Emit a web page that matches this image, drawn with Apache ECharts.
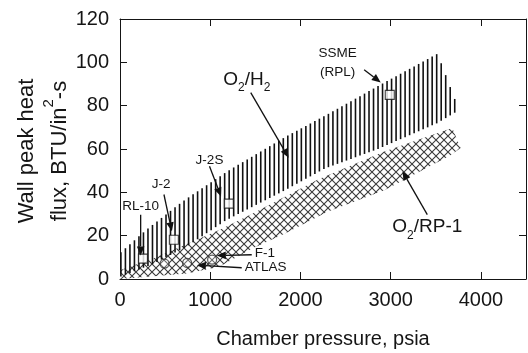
<!DOCTYPE html>
<html><head><meta charset="utf-8">
<script src="https://cdn.jsdelivr.net/npm/echarts@6/dist/echarts.min.js"></script>
<style>html,body{margin:0;padding:0;background:#fff}#c{width:528px;height:353px}</style>
</head><body><div id="c"></div>
<script>
// ---------------- data ----------------
const xTickLabels = ['0', '1000', '2000', '3000', '4000'];
const yTickLabels = ['0', '20', '40', '60', '80', '100', '120'];

// O2/H2 band (vertical hatching)
const h2UpperX = [0, 300, 700, 1200, 1850, 2300, 2900, 3520, 3720];
const h2UpperY = [12, 23, 36, 50, 66, 76, 90, 104, 82];
const h2LowerX = [0, 370, 740, 1170, 1830, 2270, 2860, 3520, 3720];
const h2LowerY = [1, 7, 15, 27, 41, 51, 60, 72, 77];

// O2/RP-1 band (cross hatching)
const rp1UpperX = [0, 370, 1100, 1460, 2200, 2930, 3683];
const rp1UpperY = [4, 9.5, 22.6, 30, 46, 58.8, 69.7];
const rp1LowerX = [0, 740, 1100, 1460, 1830, 2300, 2930, 3660, 3775];
const rp1LowerY = [0, 2.5, 5.7, 14, 21, 31, 41, 57, 60.5];

// engines (squares: O2/H2, circles: O2/RP-1)
const h2EngineNames = ['RL-10', 'J-2', 'J-2S', 'SSME'];
const h2EnginePressure = [254, 597, 1206, 2990];
const h2EngineFlux = [9.4, 18.1, 34.8, 85];
const rp1EnginePressure = [494, 744, 1021];
const rp1EngineFlux = [7.1, 7.4, 8.9];

// annotation texts
const labelTexts = ['{m|O}{s|2}{m|/H}{s|2}', '{m|O}{s|2}{m|/RP-1}', 'SSME', '(RPL)', 'RL-10', 'J-2', 'J-2S', 'F-1', 'ATLAS'];
const labelX = [1405, 3406, 2411, 2411, 229, 457, 992, 1493, 1383];
const labelY = [91, 22.8, 104.4, 95.2, 33.4, 43.5, 55, 11.7, 5.2];
const labelAlign = ['center', 'center', 'center', 'center', 'center', 'center', 'center', 'left', 'left'];
const labelBig = [true, true, false, false, false, false, false, false, false];

// arrows: start -> tip
const arrowFromX = [229, 487, 992, 1449, 2706, 3406, 1460, 1349];
const arrowFromY = [29.7, 39, 52, 86, 96.6, 29.7, 11.2, 5.2];
const arrowToX = [229, 575, 1120, 1869, 2890, 3130, 1073, 852];
const arrowToY = [10.8, 22, 38.1, 56, 90.7, 49.7, 10.8, 6.4];

// ---------------- helpers ----------------
function interp(xs, ys, x) {
  if (x <= xs[0]) return ys[0];
  for (let i = 1; i < xs.length; i++) {
    if (x <= xs[i]) {
      const t = (x - xs[i - 1]) / (xs[i] - xs[i - 1]);
      return ys[i - 1] + t * (ys[i] - ys[i - 1]);
    }
  }
  return ys[ys.length - 1];
}

function makeCrossPattern() {
  const c = document.createElement('canvas');
  c.width = 8; c.height = 8;
  const g = c.getContext('2d');
  g.fillStyle = '#fff';
  g.fillRect(0, 0, 8, 8);
  g.strokeStyle = '#3a3a3a';
  g.lineWidth = 1.1;
  g.beginPath();
  g.moveTo(-1, -1); g.lineTo(9, 9);
  g.moveTo(9, -1); g.lineTo(-1, 9);
  g.stroke();
  return c;
}
const crossPattern = makeCrossPattern();

const FONT = '"Liberation Sans", Arial, Helvetica, sans-serif';
const INK = '#151515';

const chart = echarts.init(document.getElementById('c'), null, { renderer: 'canvas' });

function axisCommon() {
  return {
    axisLine: { show: true, onZero: false, lineStyle: { color: INK, width: 1 } },
    axisTick: { show: true, inside: true, length: 7, lineStyle: { color: INK, width: 1 } },
    splitLine: { show: false }
  };
}

const option = {
  animation: false,
  backgroundColor: '#fff',
  grid: { left: 120, right: 2, top: 19, bottom: 74 },
  xAxis: [
    Object.assign({
      type: 'value', min: 0, max: 4500, interval: 1000, position: 'bottom',
      axisLabel: {
        show: true, margin: 11, color: INK, fontSize: 20, fontFamily: FONT, showMaxLabel: false,
        formatter: v => (xTickLabels.indexOf(String(v)) >= 0 ? String(v) : '')
      }
    }, axisCommon()),
    Object.assign({
      type: 'value', min: 0, max: 4500, interval: 1000, position: 'top',
      axisLabel: { show: false }
    }, axisCommon())
  ],
  yAxis: [
    Object.assign({
      type: 'value', min: 0, max: 120, interval: 20, position: 'left',
      axisLabel: {
        show: true, margin: 11, color: INK, fontSize: 20, fontFamily: FONT,
        formatter: v => (yTickLabels.indexOf(String(v)) >= 0 ? String(v) : '')
      }
    }, axisCommon()),
    Object.assign({
      type: 'value', min: 0, max: 120, interval: 20, position: 'right',
      axisLabel: { show: false }
    }, axisCommon())
  ],
  graphic: [
    {
      type: 'text', x: 27, y: 151, rotation: Math.PI / 2,
      style: {
        text: 'Wall peak heat', font: '22px ' + FONT, fill: INK,
        align: 'center', verticalAlign: 'middle', textAlign: 'center', textVerticalAlign: 'middle'
      }
    },
    {
      type: 'text', x: 56, y: 151, rotation: Math.PI / 2,
      style: {
        text: '{n|flux, BTU/in}{p|2}{n|-s}', fill: INK,
        align: 'center', verticalAlign: 'middle', textAlign: 'center', textVerticalAlign: 'middle',
        rich: {
          n: { fontSize: 22, fontFamily: FONT, color: INK, verticalAlign: 'bottom', lineHeight: 30 },
          p: { fontSize: 15, fontFamily: FONT, color: INK, verticalAlign: 'top', lineHeight: 30 }
        }
      }
    },
    {
      type: 'text', x: 323, y: 339,
      style: {
        text: 'Chamber pressure, psia', font: '20px ' + FONT, fill: INK,
        align: 'center', verticalAlign: 'middle', textAlign: 'center', textVerticalAlign: 'middle'
      }
    }
  ],
  series: [
    {
      // O2/RP-1 crosshatched band
      type: 'custom', coordinateSystem: 'cartesian2d', silent: true, clip: false,
      data: [[0, 0]],
      renderItem: function (params, api) {
        const pts = [];
        for (let i = 0; i < rp1UpperX.length; i++) pts.push(api.coord([rp1UpperX[i], rp1UpperY[i]]));
        for (let i = rp1LowerX.length - 1; i >= 0; i--) pts.push(api.coord([rp1LowerX[i], rp1LowerY[i]]));
        return {
          type: 'polygon', shape: { points: pts },
          style: { fill: { image: crossPattern, repeat: 'repeat' }, stroke: null }
        };
      }
    },
    {
      // O2/H2 vertically hatched band
      type: 'custom', coordinateSystem: 'cartesian2d', silent: true, clip: false,
      data: [[0, 0]],
      renderItem: function (params, api) {
        const children = [];
        const xEnd = Math.min(h2UpperX[h2UpperX.length - 1], h2LowerX[h2LowerX.length - 1]);
        for (let x = 10; x <= xEnd; x += 50) {
          const top = api.coord([x, interp(h2UpperX, h2UpperY, x)]);
          const bot = api.coord([x, interp(h2LowerX, h2LowerY, x)]);
          children.push({
            type: 'line',
            shape: { x1: top[0], y1: bot[1], x2: top[0], y2: top[1] },
            style: { stroke: '#111', lineWidth: 1.6 }
          });
        }
        return { type: 'group', children: children };
      }
    },
    {
      type: 'scatter', name: 'O2/H2 engines', symbol: 'rect', symbolSize: 9, silent: true,
      itemStyle: { color: '#fff', borderColor: '#111', borderWidth: 1.1 },
      data: h2EnginePressure.map((p, i) => [p, h2EngineFlux[i]]),
      z: 3
    },
    {
      type: 'scatter', name: 'O2/RP-1 engines', symbol: 'circle', symbolSize: 9, silent: true,
      itemStyle: { color: 'rgba(255,255,255,0.3)', borderColor: '#333', borderWidth: 1.3 },
      data: rp1EnginePressure.map((p, i) => [p, rp1EngineFlux[i]]),
      z: 3
    },
    {
      // arrows
      type: 'custom', coordinateSystem: 'cartesian2d', silent: true, clip: false, z: 4,
      data: arrowFromX.map((x, i) => [x, arrowFromY[i], arrowToX[i], arrowToY[i]]),
      encode: { x: [0, 2], y: [1, 3] },
      renderItem: function (params, api) {
        const p1 = api.coord([api.value(0), api.value(1)]);
        const p2 = api.coord([api.value(2), api.value(3)]);
        const dx = p2[0] - p1[0], dy = p2[1] - p1[1];
        const len = Math.sqrt(dx * dx + dy * dy) || 1;
        const ux = dx / len, uy = dy / len;
        const L = 9, W = 3.8;
        const bx = p2[0] - ux * L, by = p2[1] - uy * L;
        const nx = -uy, ny = ux;
        return {
          type: 'group',
          children: [
            { type: 'line', shape: { x1: p1[0], y1: p1[1], x2: bx, y2: by }, style: { stroke: '#111', lineWidth: 1.3 } },
            { type: 'polygon', shape: { points: [[p2[0], p2[1]], [bx + nx * W, by + ny * W], [bx - nx * W, by - ny * W]] }, style: { fill: '#111' } }
          ]
        };
      }
    },
    {
      // annotation labels
      type: 'custom', coordinateSystem: 'cartesian2d', silent: true, clip: false, z: 5,
      data: labelX.map((x, i) => [x, labelY[i]]),
      renderItem: function (params, api) {
        const i = params.dataIndex;
        const p = api.coord([api.value(0), api.value(1)]);
        const big = labelBig[i];
        const style = {
          text: labelTexts[i], fill: INK,
          align: labelAlign[i], textAlign: labelAlign[i],
          verticalAlign: 'middle', textVerticalAlign: 'middle'
        };
        if (big) {
          style.rich = {
            m: { fontSize: 19, fontFamily: FONT, color: INK, verticalAlign: 'top', lineHeight: 24 },
            s: { fontSize: 12, fontFamily: FONT, color: INK, verticalAlign: 'bottom', lineHeight: 24 }
          };
        } else {
          style.font = '13.5px ' + FONT;
        }
        return { type: 'text', x: p[0], y: p[1], style: style };
      }
    }
  ]
};

chart.setOption(option);
</script>
</body></html>
